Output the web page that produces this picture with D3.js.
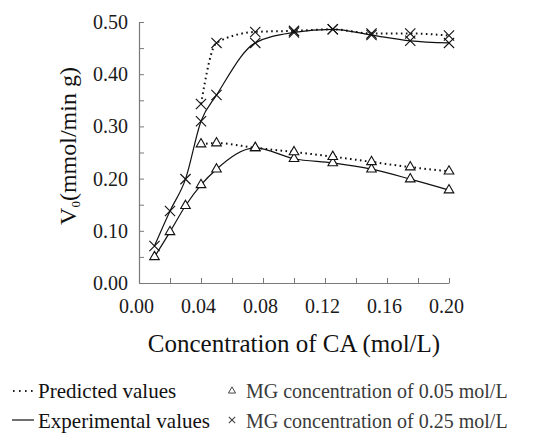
<!DOCTYPE html>
<html>
<head>
<meta charset="utf-8">
<script src="https://cdn.jsdelivr.net/npm/d3@7"></script>
</head>
<body style="margin:0">
<svg width="544" height="434"></svg>
<script>
// concentration of CA (mol/L)
var concExp = [0.01, 0.02, 0.03, 0.04, 0.05, 0.075, 0.10, 0.125, 0.15, 0.175, 0.20];
var concPred = [0.04, 0.05, 0.075, 0.10, 0.125, 0.15, 0.175, 0.20];

// V0 values, MG 0.05 mol/L (triangles) and MG 0.25 mol/L (crosses)
var triExp = [0.05, 0.098, 0.148, 0.188, 0.218, 0.259, 0.238, 0.23, 0.218, 0.199, 0.178];
var triPred = [0.266, 0.268, 0.259, 0.251, 0.242, 0.232, 0.222, 0.214];
var crossExp = [0.071, 0.138, 0.199, 0.31, 0.36, 0.46, 0.48, 0.486, 0.475, 0.464, 0.46];
var crossPred = [0.343, 0.46, 0.481, 0.483, 0.486, 0.478, 0.478, 0.474];

var xTicks = [0, 0.02, 0.04, 0.06, 0.08, 0.10, 0.12, 0.14, 0.16, 0.18, 0.20];
var yTicks = [0, 0.05, 0.10, 0.15, 0.20, 0.25, 0.30, 0.35, 0.40, 0.45, 0.50];

var svg = d3.select("svg");

var x = d3.scaleLinear().domain([0, 0.2]).range([139, 449]);
var y = d3.scaleLinear().domain([0, 0.5]).range([283, 22]);

var axisColor = "#7a7a7a";

// lines
var line = d3.line()
    .x(function(d) { return x(d[0]); })
    .y(function(d) { return y(d[1]); })
    .curve(d3.curveMonotoneX);

var series = [
    {xs: concExp, ys: triExp, dash: null, marker: "tri"},
    {xs: concPred, ys: triPred, dash: "1.6,3.4", marker: "tri"},
    {xs: concExp, ys: crossExp, dash: null, marker: "cross"},
    {xs: concPred, ys: crossPred, dash: "1.6,3.4", marker: "cross"}
];

series.forEach(function(s) {
    var pts = s.xs.map(function(v, i) { return [v, s.ys[i]]; });
    svg.append("path")
        .datum(pts)
        .attr("d", line)
        .attr("fill", "none")
        .attr("stroke", "#111")
        .attr("stroke-width", s.dash ? 2 : 1.2)
        .attr("stroke-dasharray", s.dash);
});

// markers
var triangle = d3.symbol().type(d3.symbolTriangle).size(40);
var cross = d3.symbol().type(d3.symbolX).size(70);

series.forEach(function(s) {
    var pts = s.xs.map(function(v, i) { return [v, s.ys[i]]; });
    svg.append("g").selectAll("path")
        .data(pts)
        .join("path")
        .attr("transform", function(d) { return "translate(" + x(d[0]) + "," + y(d[1]) + ")"; })
        .attr("d", s.marker == "tri" ? triangle : cross)
        .attr("fill", s.marker == "tri" ? "#fff" : "none")
        .attr("stroke", "#111")
        .attr("stroke-width", 1.1);
});

// y axis
var gy = svg.append("g")
    .attr("transform", "translate(" + x(0) + ",0)")
    .call(d3.axisLeft(y)
        .tickValues(yTicks)
        .tickSizeInner(-5)
        .tickSizeOuter(0)
        .tickPadding(11)
        .tickFormat(function(d, i) { return i % 2 == 0 ? d3.format(".2f")(d) : ""; }));

// x axis
var gx = svg.append("g")
    .attr("transform", "translate(0," + y(0) + ")")
    .call(d3.axisBottom(x)
        .tickValues(xTicks)
        .tickSizeInner(-5)
        .tickSizeOuter(0)
        .tickPadding(16)
        .tickFormat(function(d, i) { return i % 2 == 0 ? d3.format(".2f")(d) : ""; }));

[gx, gy].forEach(function(g) {
    g.select(".domain").attr("stroke", axisColor).attr("stroke-width", 1.2);
    g.selectAll(".tick line").attr("stroke", axisColor).attr("stroke-width", 1);
    g.selectAll(".tick text")
        .attr("fill", "#1a1a1a")
        .style("font-family", "Liberation Serif")
        .style("font-size", "20px");
});
gx.selectAll(".tick text").attr("dx", -3);

// axis titles
svg.append("text")
    .attr("x", 294)
    .attr("y", 352)
    .attr("text-anchor", "middle")
    .attr("fill", "#111")
    .style("font-family", "Liberation Serif")
    .style("font-size", "25px")
    .text("Concentration of CA (mol/L)");

var yl = svg.append("text")
    .attr("transform", "translate(76,146) rotate(-90)")
    .attr("text-anchor", "middle")
    .attr("fill", "#111")
    .style("font-family", "Liberation Serif")
    .style("font-size", "24px");
yl.append("tspan").text("V");
yl.append("tspan").attr("dy", 4).style("font-size", "13px").text("0");
yl.append("tspan").attr("dy", -4).text("(mmol/min g)");

// legend
var leg = svg.append("g");
leg.append("line")
    .attr("x1", 13).attr("x2", 33).attr("y1", 391).attr("y2", 391)
    .attr("stroke", "#222").attr("stroke-width", 2).attr("stroke-dasharray", "1.6,4.4");
leg.append("line")
    .attr("x1", 12).attr("x2", 34).attr("y1", 420).attr("y2", 420)
    .attr("stroke", "#222").attr("stroke-width", 1.3);
leg.append("path")
    .attr("transform", "translate(232,391)")
    .attr("d", d3.symbol().type(d3.symbolTriangle).size(22))
    .attr("fill", "#fff").attr("stroke", "#444").attr("stroke-width", 1);
leg.append("path")
    .attr("transform", "translate(232,420)")
    .attr("d", d3.symbol().type(d3.symbolX).size(28))
    .attr("fill", "none").attr("stroke", "#444").attr("stroke-width", 1.1);

var legendItems = [
    {x: 38, y: 398, size: 21, fill: "#111", text: "Predicted values"},
    {x: 38, y: 428, size: 21, fill: "#111", text: "Experimental values"},
    {x: 246, y: 398, size: 20, fill: "#3a3a3a", text: "MG concentration of 0.05 mol/L"},
    {x: 246, y: 428, size: 20, fill: "#3a3a3a", text: "MG concentration of 0.25 mol/L"}
];
legendItems.forEach(function(d) {
    leg.append("text")
        .attr("x", d.x).attr("y", d.y)
        .attr("fill", d.fill)
        .style("font-family", "Liberation Serif")
        .style("font-size", d.size + "px")
        .text(d.text);
});
</script>
</body>
</html>
